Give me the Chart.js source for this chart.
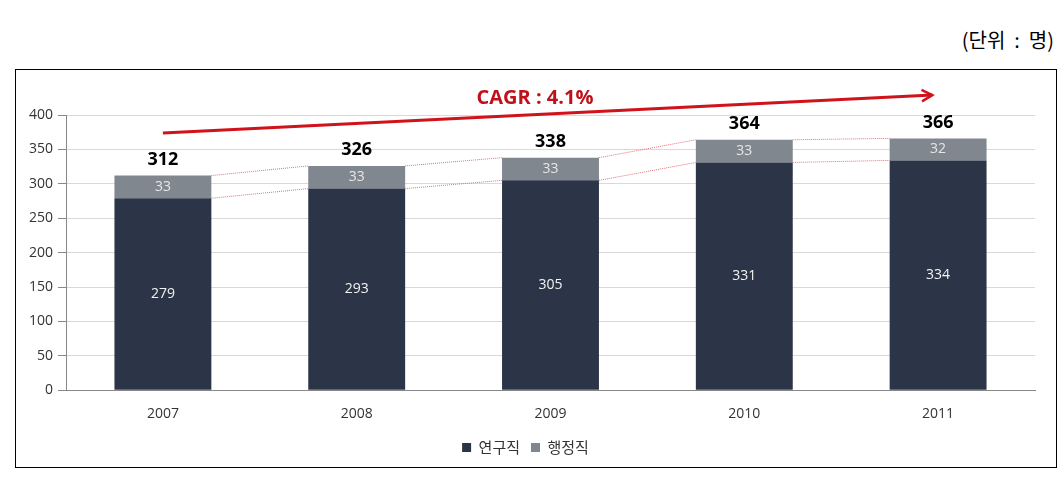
<!DOCTYPE html>
<html>
<head>
<meta charset="utf-8">
<script src="https://cdn.jsdelivr.net/npm/chart.js@4"></script>
<style>
  body { margin: 0; background: #fff; }
  .unit { position: absolute; right: 10px; top: 25px; font: 20px "Noto Sans CJK KR", serif; color: #000; white-space: pre; }
  .box { position: absolute; left: 15px; top: 69px; width: 1042px; height: 399px; border: 1px solid #000; box-sizing: border-box; }
</style>
</head>
<body>
<div class="unit">(단위  :  명)</div>
<div class="box"><canvas id="myChart" width="1040" height="397"></canvas></div>
<script>
const years = ['2007', '2008', '2009', '2010', '2011']
const research = [279, 293, 305, 331, 334]   // 연구직
const admin = [33, 33, 33, 33, 32]           // 행정직
const yTicks = [0, 50, 100, 150, 200, 250, 300, 350, 400]
const cagrText = 'CAGR : 4.1%'

// arrow from/to in (category index, value)
const arrowFrom = [0, 374]
const arrowTo = [3.97, 429]

const totals = research.map((v, i) => v + admin[i])

// labels + dotted connectors + CAGR arrow
const extras = {
    id: 'extras',
    afterDatasetsDraw(chart) {
        const ctx = chart.ctx
        const xs = chart.scales.x, ys = chart.scales.y
        const m0 = chart.getDatasetMeta(0), m1 = chart.getDatasetMeta(1)

        // dotted red lines between bars
        ctx.save()
        ctx.strokeStyle = '#e0707a'
        ctx.lineWidth = 1
        ctx.setLineDash([1, 1])
        for (let i = 0; i < years.length - 1; i++) {
            const a = m1.data[i], b = m1.data[i + 1]
            ctx.beginPath()
            ctx.moveTo(a.x + a.width / 2, ys.getPixelForValue(totals[i]))
            ctx.lineTo(b.x - b.width / 2, ys.getPixelForValue(totals[i + 1]))
            ctx.stroke()
            ctx.beginPath()
            ctx.moveTo(a.x + a.width / 2, ys.getPixelForValue(research[i]))
            ctx.lineTo(b.x - b.width / 2, ys.getPixelForValue(research[i + 1]))
            ctx.stroke()
        }
        ctx.restore()

        // values
        ctx.save()
        ctx.textAlign = 'center'
        ctx.textBaseline = 'middle'
        m0.data.forEach((bar, i) => {
            ctx.font = '14px "Open Sans", "Noto Sans CJK KR"'
            ctx.fillStyle = '#f2f2f2'
            ctx.fillText(research[i], bar.x, (bar.y + bar.base) / 2)
            const top = m1.data[i]
            ctx.fillStyle = '#e6e6e6'
            ctx.fillText(admin[i], top.x, (top.y + top.base) / 2)
            ctx.font = 'bold 18px "Open Sans", "Noto Sans CJK KR"'
            ctx.fillStyle = '#000'
            ctx.fillText(totals[i], top.x, top.y - 16)
        })
        ctx.restore()

        // CAGR arrow
        const x1 = xs.getPixelForValue(arrowFrom[0]), y1 = ys.getPixelForValue(arrowFrom[1])
        const x2 = xs.getPixelForValue(arrowTo[0]), y2 = ys.getPixelForValue(arrowTo[1])
        const ang = Math.atan2(y2 - y1, x2 - x1)
        ctx.save()
        ctx.strokeStyle = '#d0121b'
        ctx.lineWidth = 3
        ctx.beginPath()
        ctx.moveTo(x1, y1)
        ctx.lineTo(x2, y2)
        ctx.stroke()
        ctx.lineWidth = 2.5
        ctx.beginPath()
        ctx.moveTo(x2 - 12 * Math.cos(ang - 0.5), y2 - 12 * Math.sin(ang - 0.5))
        ctx.lineTo(x2, y2)
        ctx.lineTo(x2 - 12 * Math.cos(ang + 0.5), y2 - 12 * Math.sin(ang + 0.5))
        ctx.stroke()
        ctx.font = 'bold 20px "Open Sans", "Noto Sans CJK KR"'
        ctx.fillStyle = '#c0101a'
        ctx.textAlign = 'center'
        ctx.textBaseline = 'middle'
        ctx.fillText(cagrText, xs.getPixelForValue(1.92), ys.getPixelForValue(424))
        ctx.restore()
    }
}

const ctx = document.getElementById('myChart').getContext('2d')
const myChart = new Chart(ctx, {
    type: 'bar',
    data: {
        labels: years,
        datasets: [{
            label: '연구직',
            data: research,
            backgroundColor: '#2c3547',
            barPercentage: 0.5,
            categoryPercentage: 1
        }, {
            label: '행정직',
            data: admin,
            backgroundColor: '#80878f',
            barPercentage: 0.5,
            categoryPercentage: 1
        }]
    },
    options: {
        responsive: false,
        animation: false,
        layout: { padding: { top: 45, right: 21, left: 0, bottom: 2 } },
        plugins: {
            tooltip: { enabled: false },
            legend: {
                position: 'bottom',
                labels: {
                    boxWidth: 9, boxHeight: 9, padding: 11,
                    color: '#333',
                    font: { size: 15, family: '"Noto Sans CJK KR"' }
                }
            }
        },
        scales: {
            x: {
                stacked: true,
                grid: { display: false },
                border: { color: '#888' },
                ticks: { color: '#333', font: { size: 14, family: '"Open Sans"' }, padding: 7 }
            },
            y: {
                stacked: true,
                min: 0, max: 400,
                afterFit(scale) { scale.width = 50 },
                afterBuildTicks(scale) { scale.ticks = yTicks.map(v => ({ value: v })) },
                grid: { color: '#d9d9d9', tickLength: 8, tickColor: '#888' },
                border: { color: '#888' },
                ticks: { color: '#333', font: { size: 14, family: '"Open Sans"' }, padding: 5 }
            }
        }
    },
    plugins: [extras]
})
</script>
</body>
</html>
